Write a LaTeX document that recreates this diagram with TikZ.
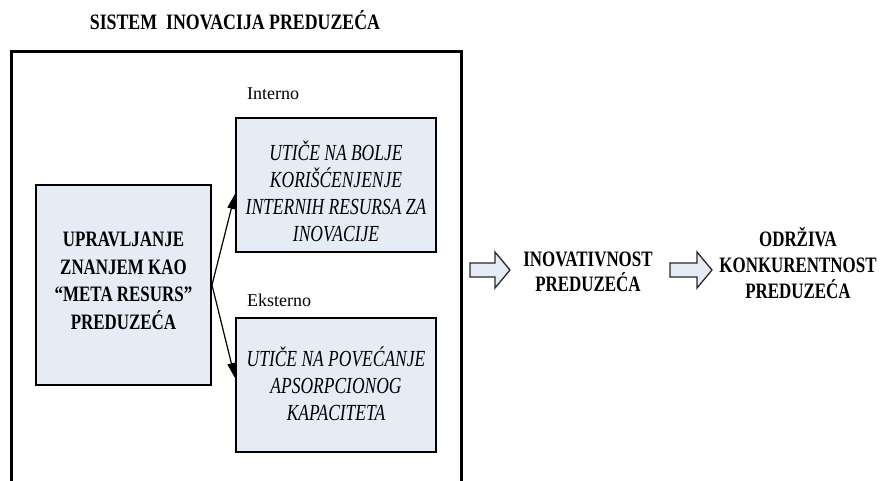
\documentclass[tikz,border=0pt]{standalone}
\usepackage{fontspec}
\setmainfont{Liberation Serif}
\newfontfamily\condfont{Liberation Serif}[FakeStretch=0.77]
\newfontfamily\titlefont{Liberation Serif}[FakeStretch=0.81]
\newfontfamily\conditfont{Liberation Serif}[FakeStretch=0.76]
\usetikzlibrary{arrows.meta,calc}
\definecolor{boxfill}{RGB}{230,236,246}
\definecolor{edgegray}{RGB}{40,40,40}
\tikzset{
  framebox/.style={draw=black,line width=3pt},
  infobox/.style={draw=black,line width=2pt,fill=boxfill,minimum width=175pt,minimum height=200pt,inner sep=0pt},
  effbox/.style={draw=black,line width=2pt,fill=boxfill,minimum width=200pt,inner sep=0pt},
  boldtxt/.style={font=\condfont\bfseries\fontsize{22}{27.5}\selectfont,align=center,inner sep=0pt},
  ittxt/.style={font=\conditfont\itshape\fontsize{23}{27}\selectfont,align=center,inner sep=0pt},
  plaintxt/.style={font=\fontsize{18}{22}\selectfont,inner sep=0pt},
  link/.style={draw=black,line width=1.2pt,-{Triangle[length=15pt,width=8pt]}},
  blockarrow/.style={draw=edgegray,line width=1.3pt,fill=boxfill,line join=miter}
}
\begin{document}
\begin{tikzpicture}[x=1pt,y=-1pt]
\useasboundingbox (0,0) rectangle (885,481);
% outer frame (open at the bottom)
\draw[framebox] (11,490) -- (11,52) -- (461.5,52) -- (461.5,490);
\node[boldtxt,font=\titlefont\bfseries\fontsize{22}{27.5}\selectfont,anchor=base] (title) at (235,30) {SISTEM\ \ INOVACIJA PREDUZEĆA};
% left box
\node[infobox,minimum width=175pt,minimum height=200pt] (km) at (123.5,285) {};
\node[boldtxt] (kmtxt) at (123.5,281) {UPRAVLJANJE\\ZNANJEM KAO\\“META RESURS”\\PREDUZEĆA};
% right boxes
\node[effbox,minimum height=134pt] (int) at (336,185) {};
\node[ittxt] (inttxt) at (336,191) {UTIČE NA BOLJE\\KORIŠĆENJENJE\\INTERNIH RESURSA ZA\\INOVACIJE};
\node[effbox,minimum height=134pt] (ext) at (336,385) {};
\node[ittxt] (exttxt) at (336,384) {UTIČE NA POVEĆANJE\\APSORPCIONOG\\KAPACITETA};
\node[plaintxt,anchor=base west] (intlab) at (247,100) {Interno};
\node[plaintxt,anchor=base west] (extlab) at (247,306) {Eksterno};
% connectors
\draw[link] (km.east) -- ($(int.west)+(0,9)$);
\draw[link] (km.east) -- ($(ext.west)+(0,-7)$);
% block arrows
\draw[blockarrow] (470,263) -- (495,263) -- (495,252) -- (510,270) -- (495,288) -- (495,277) -- (470,277) -- cycle;
\node[boldtxt,font=\condfont\bfseries\fontsize{22}{25.5}\selectfont] (inov) at (588,272) {INOVATIVNOST\\PREDUZEĆA};
\draw[blockarrow] (670,263) -- (697,263) -- (697,252) -- (712,270) -- (697,288) -- (697,277) -- (670,277) -- cycle;
\node[boldtxt,font=\condfont\bfseries\fontsize{22}{26}\selectfont] (konk) at (798,263) {ODRŽIVA\\KONKURENTNOST\\PREDUZEĆA};
\end{tikzpicture}
\end{document}
